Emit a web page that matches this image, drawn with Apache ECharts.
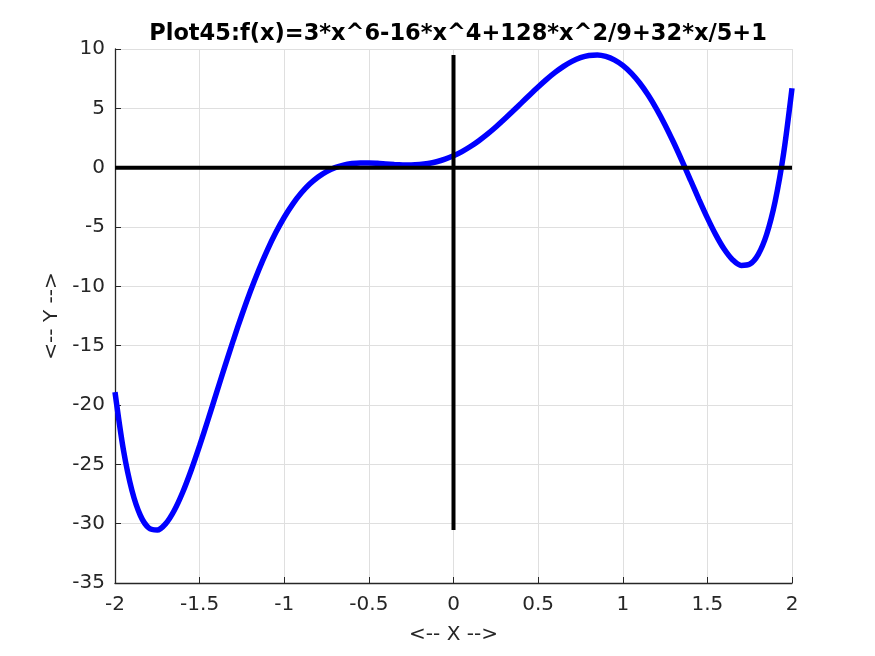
<!DOCTYPE html>
<html><head><meta charset="utf-8">
<script src="https://cdn.jsdelivr.net/npm/echarts@6/dist/echarts.min.js"></script>
<style>html,body{margin:0;padding:0;background:#fff}#c{width:875px;height:656px}</style>
</head><body><div id="c"></div>
<script>
const xs = [-2,-1.95,-1.9,-1.85,-1.8,-1.75,-1.7,-1.65,-1.6,-1.55,-1.5,-1.45,-1.4,-1.35,-1.3,-1.25,-1.2,-1.15,-1.1,-1.05,-1,-0.95,-0.9,-0.85,-0.8,-0.75,-0.7,-0.65,-0.6,-0.55,-0.5,-0.45,-0.4,-0.35,-0.3,-0.25,-0.2,-0.15,-0.1,-0.05,0,0.05,0.1,0.15,0.2,0.25,0.3,0.35,0.4,0.45,0.5,0.55,0.6,0.65,0.7,0.75,0.8,0.85,0.9,0.95,1,1.05,1.1,1.15,1.2,1.25,1.3,1.35,1.4,1.45,1.5,1.55,1.6,1.65,1.7,1.75,1.8,1.85,1.9,1.95,2];
const ys = [-18.911,-23.803,-27.194,-29.312,-30.365,-30.538,-29.999,-28.895,-27.357,-25.501,-23.428,-21.224,-18.961,-16.704,-14.502,-12.396,-10.420,-8.596,-6.942,-5.468,-4.178,-3.071,-2.143,-1.385,-0.785,-0.329,0.000,0.219,0.346,0.401,0.402,0.369,0.318,0.268,0.233,0.227,0.263,0.352,0.501,0.715,1,1.355,1.781,2.272,2.823,3.427,4.073,4.748,5.438,6.129,6.802,7.441,8.026,8.539,8.960,9.271,9.455,9.495,9.377,9.089,8.622,7.972,7.138,6.124,4.940,3.604,2.138,0.576,-1.041,-2.664,-4.228,-5.661,-6.877,-7.775,-8.239,-8.138,-7.325,-5.632,-2.874,1.157,6.689];
const hAxisLine = [[-2,0],[2,0]];
const yMinF = Math.min(...ys), yMaxF = Math.max(...ys);
const vAxisLine = [[0,yMinF],[0,yMaxF]];
const titleText = 'Plot45:f(x)=3*x^6-16*x^4+128*x^2/9+32*x/5+1';
const font = 'DejaVu Sans';
const chart = echarts.init(document.getElementById('c'));
chart.setOption({
  animation:false,
  title:{text:titleText,left:453,top:18,textAlign:'center',textStyle:{fontFamily:font,fontWeight:'bold',fontSize:22.5,color:'#000'}},
  grid:{left:115,right:83,top:49,bottom:73},
  xAxis:{type:'value',min:-2,max:2,interval:0.5,name:'<-- X -->',nameLocation:'middle',nameGap:42,
    nameTextStyle:{fontFamily:font,fontSize:20,color:'#262626'},
    axisLine:{show:true,onZero:false,lineStyle:{color:'#262626',width:1.3}},
    axisTick:{show:true,inside:true,length:6,lineStyle:{color:'#262626'}},
    axisLabel:{fontFamily:font,fontSize:20,color:'#262626',margin:12},
    splitLine:{show:true,lineStyle:{color:'#dfdfdf',width:1}}},
  yAxis:{type:'value',min:-35,max:10,interval:5,name:'<-- Y -->',nameLocation:'middle',nameGap:52,nameRotate:90,
    nameTextStyle:{fontFamily:font,fontSize:20,color:'#262626'},
    axisLine:{show:true,onZero:false,lineStyle:{color:'#262626',width:1.3}},
    axisTick:{show:true,inside:true,length:6,lineStyle:{color:'#262626'}},
    axisLabel:{fontFamily:font,fontSize:20,color:'#262626',margin:10},
    splitLine:{show:true,lineStyle:{color:'#dfdfdf',width:1}}},
  series:[
    {type:'line',data:xs.map((x,i)=>[x,ys[i]]),smooth:0.3,showSymbol:false,lineStyle:{color:'#0000ff',width:5.5},z:3},
    {type:'line',data:hAxisLine,showSymbol:false,lineStyle:{color:'#000',width:4},z:4},
    {type:'line',data:vAxisLine,showSymbol:false,lineStyle:{color:'#000',width:4},z:4}
  ]
});
</script></body></html>
